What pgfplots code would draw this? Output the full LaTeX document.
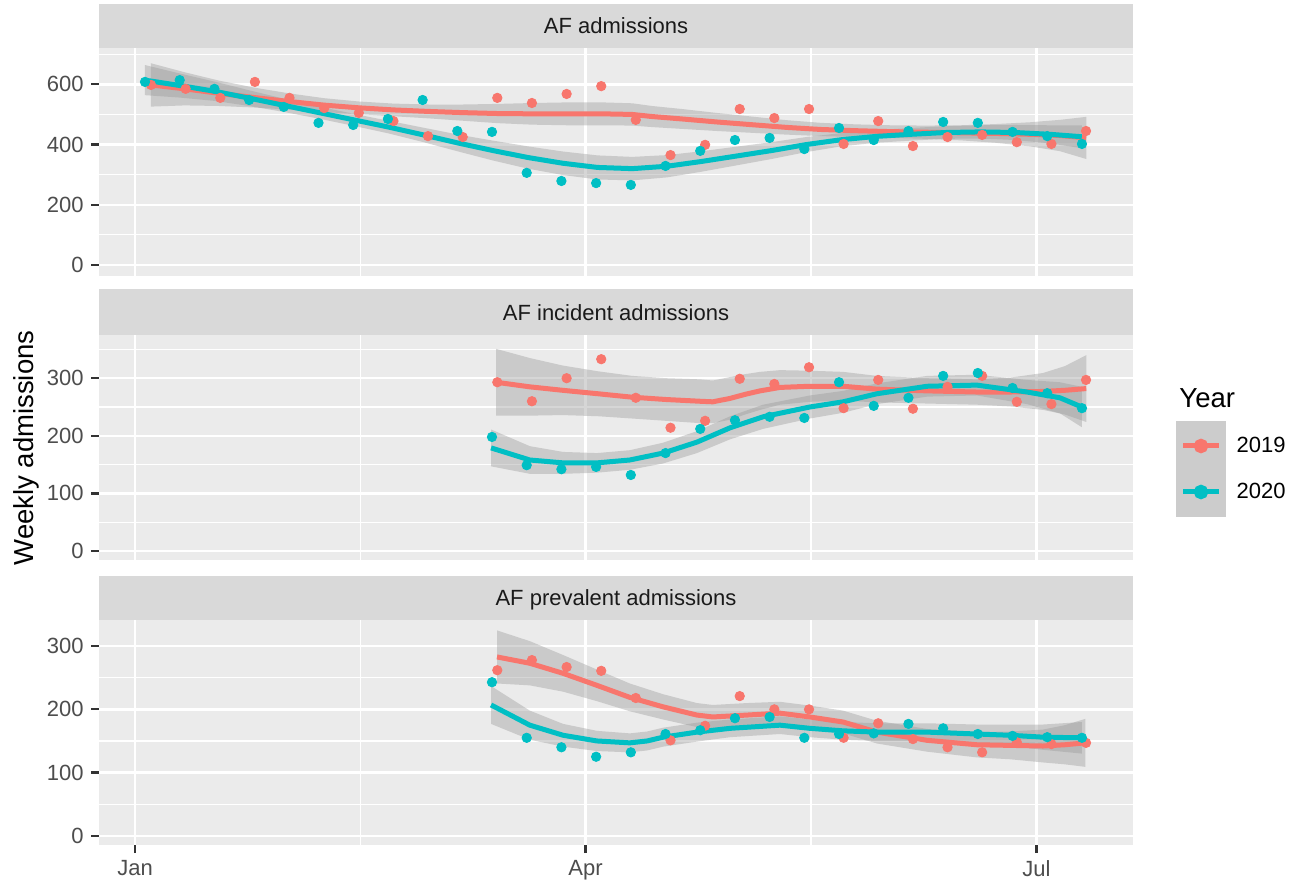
\documentclass[border=0pt]{standalone}
\usepackage{pgfplots}
\pgfplotsset{compat=1.18}
\usepackage{pgfplotstable}
\usepgfplotslibrary{fillbetween}
\usepackage{fontspec}
\setmainfont{Liberation Sans}
\definecolor{ggred}{HTML}{F8766D}
\definecolor{ggteal}{HTML}{00BFC4}
\definecolor{ggbg}{HTML}{EBEBEB}
\definecolor{ggstrip}{HTML}{D9D9D9}
\definecolor{ggtick}{HTML}{333333}
\definecolor{ggtxt}{HTML}{4D4D4D}
\definecolor{ggstriptxt}{HTML}{1A1A1A}
\definecolor{ggkey}{HTML}{CCCCCC}

% ---------- points ----------
\pgfplotstableread{
d v
3.22 598
10.18 585
17.15 555
24.11 608
31.07 555
38.05 521
45.01 505
51.97 478
58.92 428
65.90 425
72.86 555
79.82 538
86.80 568
93.76 594
100.71 482
107.69 365
114.65 399
121.61 518
128.57 488
135.55 518
142.50 402
149.46 478
156.44 395
163.40 425
170.36 432
177.33 408
184.29 402
191.25 445
}\pA
\pgfplotstableread{
d v
2.01 608
8.99 614
15.97 585
22.95 548
29.92 525
36.90 472
43.88 465
50.86 485
57.84 548
64.82 445
71.79 442
78.77 306
85.75 279
92.73 272
99.71 266
106.69 329
113.67 379
120.65 415
127.62 422
134.60 385
141.58 455
148.56 415
155.54 445
162.52 475
169.49 472
176.47 442
183.45 428
190.43 402
}\pB
\pgfplotstableread{
d v
72.86 293
79.82 260
86.80 300
93.76 333
100.71 266
107.69 214
114.65 226
121.61 299
128.57 290
135.55 319
142.50 248
149.46 297
156.44 247
163.40 285
170.36 304
177.33 259
184.29 255
191.25 297
}\iA
\pgfplotstableread{
d v
71.79 198
78.77 149
85.75 142
92.73 146
99.71 132
106.69 170
113.67 212
120.65 227
127.62 233
134.60 231
141.58 293
148.56 252
155.54 266
162.52 304
169.49 309
176.47 283
183.45 274
190.43 248
}\iB
\pgfplotstableread{
d v
72.86 262
79.82 278
86.80 267
93.76 261
100.71 218
107.69 151
114.65 174
121.61 221
128.57 200
135.55 200
142.50 155
149.46 178
156.44 153
163.40 140
170.36 132
177.33 148
184.29 145
191.25 147
}\vA
\pgfplotstableread{
d v
71.79 243
78.77 155
85.75 140
92.73 125
99.71 132
106.69 161
113.67 167
120.65 186
127.62 188
134.60 155
141.58 161
148.56 162
155.54 177
162.52 170
169.49 161
176.47 158
183.45 156
190.43 155
}\vB

% ---------- smooth fits ----------
\pgfplotstableread{
d y lo hi
3.2 598 526 670
10 585 530 640
17 570 528 612
24 556 523 589
31 543 516 570
38 531 508 554
45 522 501 543
52 515 494 536
59 510 487 533
66 506 479 533
73 503 471 535
80 502 466 538
87 502 464 540
94 502 464 540
100 500 463 537
104 493 458 528
110 485 452 518
117 475 445 505
124 466 439 493
131 457 433 481
138 450 428 472
145 446 425 467
152 443 422 464
159 441 419 463
166 439 414 464
173 437 406 468
180 434 394 474
186 430 378 482
191.3 422 352 492
}\fpA
\pgfplotstableread{
d y lo hi
2 614 564 664
9 596 556 636
16 577 545 609
23 554 528 580
30 530 508 552
37 506 486 526
44 482 462 502
51 458 437 479
58 432 408 456
65 405 377 433
72 380 347 413
79 357 320 394
86 338 299 377
93 324 284 364
100 320 281 359
107 328 291 365
114 344 310 378
121 362 331 393
128 380 352 408
135 400 375 425
142 416 394 438
149 427 406 448
156 434 413 455
163 440 419 461
170 442 420 464
177 440 415 465
184 434 404 464
190.4 426 388 464
}\fpB
\pgfplotstableread{
d y lo hi
72.6 293 235 351
79.4 285 235 335
86 279 236 322
93.1 273 234 312
100 267 230 304
106.8 263 226 300
113.6 260 222 298
116.2 259 222 296
119.7 265 228 302
122.7 272 237 307
125.7 278 245 311
129.7 284 254 314
135.7 286 259 313
142.4 286 261 311
149.2 281 258 304
159.3 278 256 300
169.3 276 254 298
176 276 251 301
182.6 277 245 309
187 279 237 321
191.3 282 224 340
}\fiA
\pgfplotstableread{
d y lo hi
71.6 179 147 211
79.4 158 134 182
86.1 153 134 172
92.9 153 136 170
99.5 158 141 175
106.2 170 152 188
113 189 170 208
119.7 214 194 234
126.3 233 212 254
135.7 250 230 270
142.4 259 240 278
149.2 273 255 291
159.3 286 268 304
169.3 288 270 306
179.4 276 255 297
186 266 239 293
190.4 250 215 285
}\fiB
\pgfplotstableread{
d y lo hi
72.8 283 241 325
79.4 273 238 308
86.1 257 228 286
92.9 238 213 263
99.5 219 197 241
106.2 204 184 224
113 191 172 210
116.2 188 169 207
123.1 191 172 210
129.7 194 176 212
135.7 188 170 206
142.4 180 162 198
149.2 164 146 182
159.3 151 133 169
169.3 144 124 164
176 143 121 165
182.6 142 116 168
187 144 113 175
191.1 147 109 185
}\fvA
\pgfplotstableread{
d y lo hi
71.6 207 177 237
79.4 175 152 198
86.1 159 141 177
92.9 150 134 166
99.5 147 132 162
103 150 135 165
106.2 156 141 171
113 164 149 179
119.7 170 156 184
129.7 175 161 189
135.7 170 156 184
142.4 166 152 180
149.2 164 150 178
159.3 164 150 178
169.3 161 146 176
176 159 142 176
182.6 156 136 176
190.4 155 130 180
}\fvB

\pgfplotsset{
 ggpanel/.style={
   scale only axis, width=517pt, anchor=south west,
   xmin=-7.24, xmax=200.7,
   axis background/.style={fill=ggbg},
   axis line style={draw=none},
   xtick={0,90.6,181.3}, minor xtick={45.3,135.95},
   grid=both,
   major grid style={draw=white, line width=1.2pt},
   minor grid style={draw=white, line width=0.6pt},
   tick align=outside,
   major tick length=4pt, minor tick length=0pt,
   xtick pos=left, ytick pos=left,
   tick style={draw=ggtick, line width=1.1pt},
   ticklabel style={font=\fontsize{11}{13}\selectfont, text=ggtxt},
   /pgf/number format/assume math mode=true,
   /pgf/number format/1000 sep={},
   yticklabel style={inner sep=0pt, xshift=-3.5pt},
   xticklabel style={inner sep=0pt, yshift=-3.5pt},
 },
 pts/.style={only marks, mark=*, mark size=2.35pt, mark options={draw=none}, forget plot},
 fitline/.style={line width=2.5pt, no marks},
 bandfill/.style={fill=black!40, fill opacity=0.4, draw=none, forget plot},
 hid/.style={draw=none, forget plot},
}

\begin{document}
\begin{tikzpicture}

% ---------------- panel 1 ----------------
\begin{axis}[ggpanel, at={(49.5pt,306pt)}, height=114pt,
  ymin=-36.5, ymax=720.7, ytick={0,200,400,600}, minor ytick={100,300,500,700},
  xmajorticks=false]
\addplot[pts, color=ggred] table[x=d,y=v]{\pA};
\addplot[pts, color=ggteal] table[x=d,y=v]{\pB};
\addplot[hid, name path=a1h] table[x=d,y=hi]{\fpA};
\addplot[hid, name path=a1l] table[x=d,y=lo]{\fpA};
\addplot[bandfill] fill between[of=a1h and a1l];
\addplot[fitline, color=ggred] table[x=d,y=y]{\fpA};
\addplot[hid, name path=b1h] table[x=d,y=hi]{\fpB};
\addplot[hid, name path=b1l] table[x=d,y=lo]{\fpB};
\addplot[bandfill] fill between[of=b1h and b1l];
\addplot[fitline, color=ggteal] table[x=d,y=y]{\fpB};
\end{axis}

% ---------------- panel 2 ----------------
\begin{axis}[ggpanel, at={(49.5pt,164pt)}, height=112.5pt,
  ymin=-15.6, ymax=375, ytick={0,100,200,300}, minor ytick={50,150,250,350},
  xmajorticks=false,
  legend style={at={(axis description cs:1.04159,0.6178)}, anchor=north west,
    draw=none, fill=none, inner sep=0pt, outer sep=0pt, row sep=-2pt,
    column sep=3.35pt,
    font=\fontsize{11}{13}\selectfont, cells={anchor=west, inner sep=0pt}},
  legend image code/.code={
    \fill[ggkey] (0pt,-11.25pt) rectangle (22.5pt,11.25pt);
    \draw (2.25pt,0pt) -- (20.25pt,0pt);
    \fill (11.25pt,0pt) circle (2.35pt);
  }]
\addplot[pts, color=ggred] table[x=d,y=v]{\iA};
\addplot[pts, color=ggteal] table[x=d,y=v]{\iB};
\addplot[hid, name path=a2h] table[x=d,y=hi]{\fiA};
\addplot[hid, name path=a2l] table[x=d,y=lo]{\fiA};
\addplot[bandfill] fill between[of=a2h and a2l];
\addplot[fitline, color=ggred] table[x=d,y=y]{\fiA};
\addlegendentry{2019}
\addplot[hid, name path=b2h] table[x=d,y=hi]{\fiB};
\addplot[hid, name path=b2l] table[x=d,y=lo]{\fiB};
\addplot[bandfill] fill between[of=b2h and b2l];
\addplot[fitline, color=ggteal] table[x=d,y=y]{\fiB};
\addlegendentry{2020}
\end{axis}

% ---------------- panel 3 ----------------
\begin{axis}[ggpanel, at={(49.5pt,21.5pt)}, height=112.5pt,
  ymin=-14.7, ymax=341.5, ytick={0,100,200,300}, minor ytick={50,150,250},
  xticklabels={Jan,Apr,Jul}]
\addplot[pts, color=ggred] table[x=d,y=v]{\vA};
\addplot[pts, color=ggteal] table[x=d,y=v]{\vB};
\addplot[hid, name path=a3h] table[x=d,y=hi]{\fvA};
\addplot[hid, name path=a3l] table[x=d,y=lo]{\fvA};
\addplot[bandfill] fill between[of=a3h and a3l];
\addplot[fitline, color=ggred] table[x=d,y=y]{\fvA};
\addplot[hid, name path=b3h] table[x=d,y=hi]{\fvB};
\addplot[hid, name path=b3l] table[x=d,y=lo]{\fvB};
\addplot[bandfill] fill between[of=b3h and b3l];
\addplot[fitline, color=ggteal] table[x=d,y=y]{\fvB};
\end{axis}

% ---------------- strips ----------------
\fill[ggstrip] (49.5pt,420pt) rectangle (566.5pt,442pt);
\fill[ggstrip] (49.5pt,276.5pt) rectangle (566.5pt,299.35pt);
\fill[ggstrip] (49.5pt,134pt) rectangle (566.5pt,156.15pt);
\begin{scope}[every node/.style={anchor=base, inner sep=0pt, font=\fontsize{11}{13}\selectfont, text=ggstriptxt}]
\node at (308pt,427.06pt) {AF admissions};
\node at (308pt,283.96pt) {AF incident admissions};
\node at (308pt,141.16pt) {AF prevalent admissions};
\end{scope}

% ---------------- titles ----------------
\node[rotate=90, inner sep=0pt, font=\fontsize{13.75}{16}\selectfont] at (13pt,220pt) {Weekly admissions};
\node[anchor=base west, inner sep=0pt, font=\fontsize{13.75}{16}\selectfont] at (589.5pt,240.15pt) {Year};

\pgfresetboundingbox
\path[use as bounding box] (0,0) rectangle (646.5pt,444pt);
\end{tikzpicture}
\end{document}
